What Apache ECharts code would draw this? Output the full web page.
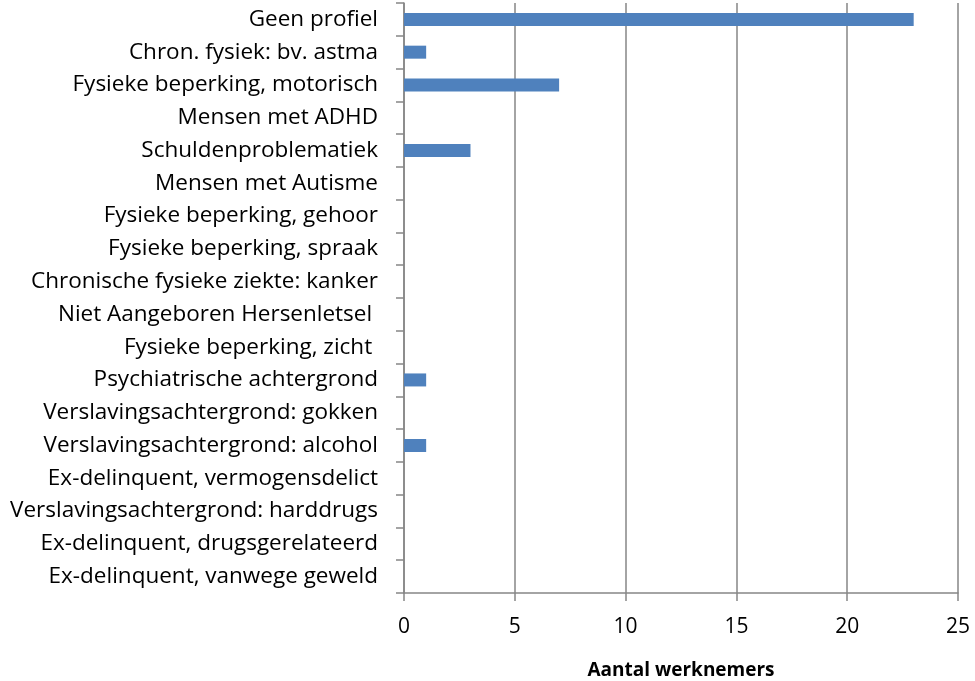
<!DOCTYPE html>
<html>
<head>
<meta charset="utf-8">
<script src="https://cdn.jsdelivr.net/npm/echarts@6/dist/echarts.min.js"></script>
<style>
html, body { margin: 0; padding: 0; background: #fff; }
#main { width: 975px; height: 681px; }
</style>
</head>
<body>
<div id="main"></div>
<script>
var categories = [
    'Geen profiel',
    'Chron. fysiek: bv. astma',
    'Fysieke beperking, motorisch',
    'Mensen met ADHD',
    'Schuldenproblematiek',
    'Mensen met Autisme',
    'Fysieke beperking, gehoor',
    'Fysieke beperking, spraak',
    'Chronische fysieke ziekte: kanker',
    'Niet Aangeboren Hersenletsel ',
    'Fysieke beperking, zicht ',
    'Psychiatrische achtergrond',
    'Verslavingsachtergrond: gokken',
    'Verslavingsachtergrond: alcohol',
    'Ex-delinquent, vermogensdelict',
    'Verslavingsachtergrond: harddrugs',
    'Ex-delinquent, drugsgerelateerd',
    'Ex-delinquent, vanwege geweld'
];
var werknemers = [23, 1, 7, 0, 3, 0, 0, 0, 0, 0, 0, 1, 0, 1, 0, 0, 0, 0];
var xTicks = { min: 0, max: 25, interval: 5 };

var font = '"Open Sans", "Noto Sans", sans-serif';
var grey = '#868686';

var option = {
    animation: false,
    grid: { left: 404, top: 3, right: 17, bottom: 88, containLabel: false, outerBoundsMode: 'none' },
    xAxis: {
        type: 'value',
        min: xTicks.min,
        max: xTicks.max,
        interval: xTicks.interval,
        name: 'Aantal werknemers',
        nameLocation: 'middle',
        nameGap: 68,
        nameTextStyle: { fontFamily: font, fontSize: 19, fontWeight: 'bold', color: '#000' },
        axisLine: { show: true, lineStyle: { color: grey, width: 1.5 } },
        axisTick: { show: true, length: 8, lineStyle: { color: grey, width: 1.5 } },
        axisLabel: { fontFamily: font, fontSize: 21, color: '#000', margin: 24 },
        splitLine: { show: true, lineStyle: { color: grey, width: 1.5 } }
    },
    yAxis: {
        type: 'category',
        inverse: true,
        data: categories,
        axisLine: { show: true, lineStyle: { color: grey, width: 1.5 } },
        axisTick: { show: true, length: 8, lineStyle: { color: grey, width: 1.5 } },
        axisLabel: { fontFamily: font, fontSize: 22.5, color: '#000', margin: 26 }
    },
    series: [{
        type: 'bar',
        data: werknemers,
        barWidth: 13,
        itemStyle: { color: '#4F81BD' }
    }]
};

echarts.init(document.getElementById('main')).setOption(option);
</script>
</body>
</html>
